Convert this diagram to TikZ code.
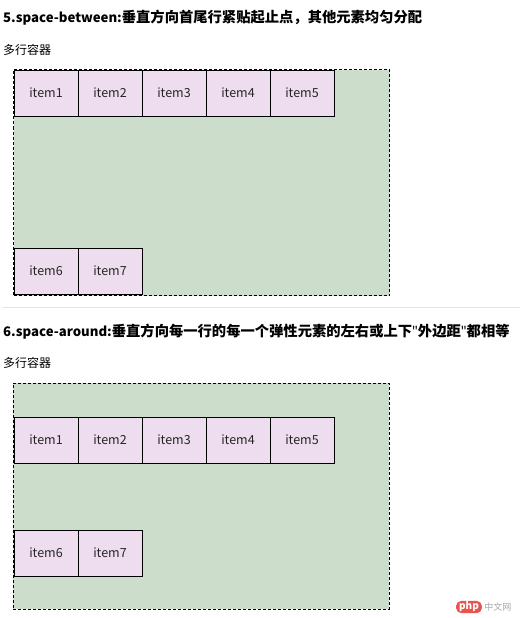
\documentclass[tikz,border=0pt]{standalone}
\usepackage{fontspec}
\setmainfont{Noto Sans CJK SC}
\newfontfamily\latinfont{Noto Sans}
\usepackage{xcolor}
\usetikzlibrary{positioning}
\definecolor{itemfill}{HTML}{EEDDEE}
\definecolor{wrapfill}{HTML}{CCDDCC}
\definecolor{phpred}{HTML}{E8554E}
\newcommand{\lat}[1]{{\fontsize{13.2}{16}\selectfont #1}}
\newcommand{\sq}{{\latinfont\mdseries "}}

\begin{document}
\begin{tikzpicture}[
  x=1pt, y=-1pt,
  wrap/.style={
    rectangle, draw=black, fill=wrapfill, dash pattern=on 3pt off 2pt,
    line width=0.8pt, minimum width=376pt, minimum height=226pt, inner sep=0pt},
  flexitem/.style={
    rectangle, draw=black, fill=itemfill, line width=1pt,
    minimum width=64pt, minimum height=46pt, inner sep=0pt, outer sep=0pt,
    font=\fontsize{12.5}{14}\selectfont, text=black!85},
  ttl/.style={anchor=west, inner sep=0pt, font=\fontsize{14.3}{16}\selectfont\bfseries},
  lbl/.style={anchor=west, inner sep=0pt, font=\fontsize{12}{14}\selectfont}
]
\useasboundingbox (0,0) rectangle (520,618);
% ── Part 5: space-between ──
\node[ttl] (T5) at (3,18) {\lat{5.space-between:}垂直方向首尾行紧贴起止点，其他元素均匀分配};
\node[lbl] (L5) at (3,50) {多行容器};
\node[wrap] (W5) at (201.5,182.5) {};
\node[flexitem, anchor=north west] (A1) at (14,70) {item1};
\node[flexitem, right=0pt of A1] (A2) {item2};
\node[flexitem, right=0pt of A2] (A3) {item3};
\node[flexitem, right=0pt of A3] (A4) {item4};
\node[flexitem, right=0pt of A4] (A5) {item5};
\node[flexitem, anchor=south west] (A6) at (14,294) {item6};
\node[flexitem, right=0pt of A6] (A7) {item7};
% ── Separator ──
\coordinate (S0) at (2,307.5);
\coordinate (S1) at (520,307.5);
\draw[black!10, line width=1pt] (S0) -- (S1);
% ── Part 6: space-around ──
\node[ttl] (T6) at (3,332) {\lat{6.space-around:}垂直方向每一行的每一个弹性元素的左右或上下\sq 外边距\sq 都相等};
\node[lbl] (L6) at (3,363) {多行容器};
\node[wrap] (W6) at (201,496) {};
\node[flexitem, anchor=north west] (B1) at (14,417) {item1};
\node[flexitem, right=0pt of B1] (B2) {item2};
\node[flexitem, right=0pt of B2] (B3) {item3};
\node[flexitem, right=0pt of B3] (B4) {item4};
\node[flexitem, right=0pt of B4] (B5) {item5};
\node[flexitem, anchor=north west] (B6) at (14,530) {item6};
\node[flexitem, right=0pt of B6] (B7) {item7};
% ── Watermark ──
\node[fill=phpred, rounded corners=5pt, inner xsep=3pt, inner ysep=1pt,
  text=white, font=\fontsize{10}{11}\selectfont\itshape\bfseries] (PHP) at (469,607) {php};
\node[right=2pt of PHP, inner sep=0pt, text=black!35,
  font=\fontsize{9}{10}\selectfont] (CN) {中文网};
\end{tikzpicture}
\end{document}
